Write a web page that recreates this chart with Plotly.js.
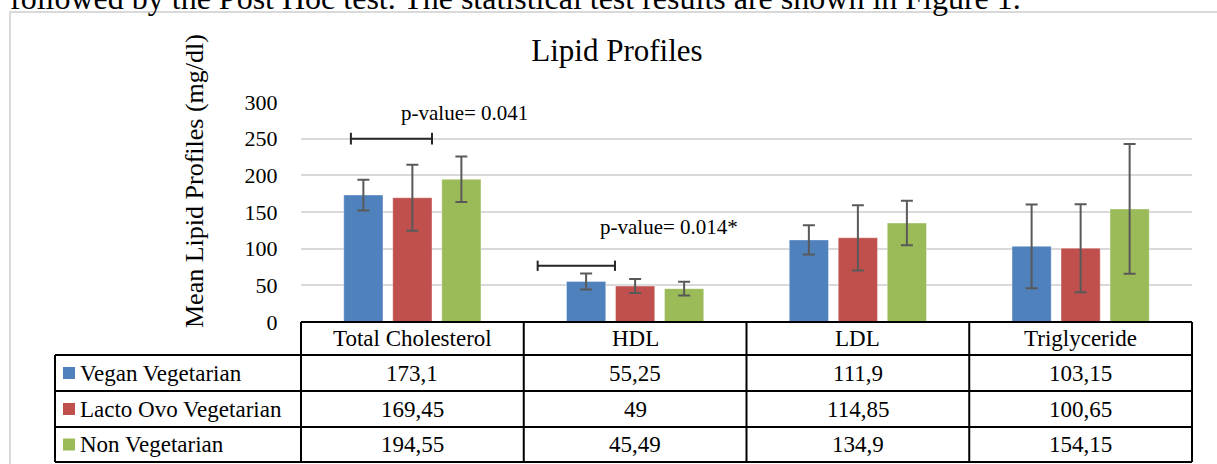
<!DOCTYPE html>
<html>
<head>
<meta charset="utf-8">
<script src="https://cdn.plot.ly/plotly-3.0.1.min.js"></script>
<style>html,body{margin:0;padding:0;background:#fff;}#chart{width:1217px;height:464px;}</style>
</head>
<body>
<div id="chart"></div>
<script>
// ---- data ----
const categories = ['Total Cholesterol', 'HDL', 'LDL', 'Triglyceride'];
const seriesNames = ['Vegan Vegetarian', 'Lacto Ovo Vegetarian', 'Non Vegetarian'];
const veganMeans = [173.1, 55.25, 111.9, 103.15];
const lactoMeans = [169.45, 49, 114.85, 100.65];
const nonVegMeans = [194.55, 45.49, 134.9, 154.15];
const veganErr = [21, 11, 20, 57];
const lactoErr = [45, 9.5, 44.5, 60];
const nonVegErr = [31, 9.3, 30.3, 88.5];
const yTicks = [0, 50, 100, 150, 200, 250, 300];
const pValueLabels = ['p-value= 0.041', 'p-value= 0.014*'];
const introText = 'followed by the Post Hoc test. The statistical test results are shown in Figure 1.';

// ---- layout geometry ----
const W = 1217, H = 464, L = 301, R = 25, T = 102, B = 142;
const PW = W - L - R, PH = H - T - B;
const px2x = p => (p - L) / PW;
const py2y = p => (H - B - p) / PH;
const FONT = 'Liberation Serif, Times New Roman, serif';
const colors = ['#4f81bd', '#c0504d', '#9bbb59'];
const means = [veganMeans, lactoMeans, nonVegMeans];
const errs = [veganErr, lactoErr, nonVegErr];

const traces = seriesNames.map((name, i) => ({
  type: 'bar', name: name, x: categories, y: means[i],
  marker: {color: colors[i], line: {color: 'rgba(255,255,255,0.35)', width: 1}},
  error_y: {type: 'data', array: errs[i], visible: true, color: '#595959', thickness: 2, width: 6},
  showlegend: false, hoverinfo: 'x+y'
}));

const shapes = [];
const annotations = [];
const blk = {color: '#000', width: 2};

// outer frame
shapes.push({type: 'rect', xref: 'paper', yref: 'paper', x0: px2x(10), x1: px2x(1240), y0: py2y(12), y1: py2y(490), line: {color: '#d9d9d9', width: 2}, layer: 'below'});

// table rows (pixel rows)
const headerTop = 322, headerBot = 355, rowBots = [391, 427, 462];
const legendLeft = 55;
// horizontal lines
shapes.push({type: 'line', xref: 'paper', yref: 'paper', x0: 0, x1: 1, y0: py2y(headerTop), y1: py2y(headerTop), line: blk});
[headerBot].concat(rowBots).forEach(r => {
  shapes.push({type: 'line', xref: 'paper', yref: 'paper', x0: px2x(legendLeft), x1: 1, y0: py2y(r), y1: py2y(r), line: blk});
});
// vertical lines
shapes.push({type: 'line', xref: 'paper', yref: 'paper', x0: px2x(legendLeft), x1: px2x(legendLeft), y0: py2y(headerBot), y1: py2y(rowBots[2]), line: blk});
for (let k = 0; k <= categories.length; k++) {
  const xp = k / categories.length;
  shapes.push({type: 'line', xref: 'paper', yref: 'paper', x0: xp, x1: xp, y0: py2y(headerTop), y1: py2y(rowBots[2]), line: blk});
}

// header text
categories.forEach((c, j) => {
  annotations.push({xref: 'x', yref: 'paper', x: j, y: py2y((headerTop + headerBot) / 2), text: c, showarrow: false, font: {family: FONT, size: 23, color: '#000'}, xanchor: 'center', yanchor: 'middle'});
});
// rows
const rowTops = [headerBot, rowBots[0], rowBots[1]];
seriesNames.forEach((s, i) => {
  const cy = (rowTops[i] + rowBots[i]) / 2;
  shapes.push({type: 'rect', xref: 'paper', yref: 'paper', x0: px2x(63), x1: px2x(75), y0: py2y(cy - 6), y1: py2y(cy + 6), fillcolor: colors[i], line: {width: 0}});
  annotations.push({xref: 'paper', yref: 'paper', x: px2x(78), y: py2y(cy), text: s, showarrow: false, font: {family: FONT, size: 23, color: '#000'}, xanchor: 'left', yanchor: 'middle'});
  means[i].forEach((v, j) => {
    annotations.push({xref: 'x', yref: 'paper', x: j, y: py2y(cy), text: String(v).replace('.', ','), showarrow: false, font: {family: FONT, size: 23, color: '#000'}, xanchor: 'center', yanchor: 'middle'});
  });
});

// significance brackets
const brackets = [
  {x0: -0.276, x1: 0.088, y: 250, cap: 8},
  {x0: 0.5625, x1: 0.9095, y: 76.7, cap: 7}
];
brackets.forEach(b => {
  const ln = {color: '#262626', width: 2};
  shapes.push({type: 'line', xref: 'x', yref: 'y', x0: b.x0, x1: b.x1, y0: b.y, y1: b.y, line: ln});
  shapes.push({type: 'line', xref: 'x', yref: 'y', x0: b.x0, x1: b.x0, y0: b.y - b.cap, y1: b.y + b.cap, line: ln});
  shapes.push({type: 'line', xref: 'x', yref: 'y', x0: b.x1, x1: b.x1, y0: b.y - b.cap, y1: b.y + b.cap, line: ln});
});
annotations.push({xref: 'x', yref: 'y', x: 0.232, y: 285, text: pValueLabels[0], showarrow: false, font: {family: FONT, size: 21, color: '#000'}, xanchor: 'center', yanchor: 'middle'});
annotations.push({xref: 'x', yref: 'y', x: 1.15, y: 130, text: pValueLabels[1], showarrow: false, font: {family: FONT, size: 21, color: '#000'}, xanchor: 'center', yanchor: 'middle'});

// y-axis title
annotations.push({xref: 'paper', yref: 'paper', x: px2x(194), y: py2y(181), text: 'Mean Lipid Profiles (mg/dl)', textangle: -90, showarrow: false, font: {family: FONT, size: 26, color: '#000'}, xanchor: 'center', yanchor: 'middle'});

// cut-off paragraph line above the figure
annotations.push({xref: 'paper', yref: 'paper', x: px2x(8), y: py2y(18), text: introText, showarrow: false, font: {family: FONT, size: 32, color: '#000'}, xanchor: 'left', yanchor: 'bottom'});

const layout = {
  width: W, height: H,
  margin: {l: L, r: R, t: T, b: B, pad: 0},
  paper_bgcolor: '#fff', plot_bgcolor: '#fff',
  title: {text: 'Lipid Profiles', font: {family: FONT, size: 31, color: '#000'}, xref: 'container', yref: 'container', x: 617 / W, xanchor: 'center', y: 1 - 50 / H, yanchor: 'middle'},
  barmode: 'group', bargap: 0.34, bargroupgap: 0.2,
  xaxis: {type: 'category', range: [-0.5, 3.5], showticklabels: false, showgrid: false, zeroline: false, showline: false, fixedrange: true},
  yaxis: {range: [0, 300], tickvals: yTicks, ticktext: yTicks.map(String), showgrid: true, gridcolor: '#d9d9d9', gridwidth: 2, zeroline: false, showline: false,
          ticks: 'outside', ticklen: 18, tickcolor: 'rgba(0,0,0,0)', tickfont: {family: FONT, size: 22, color: '#000'}, automargin: false, fixedrange: true},
  shapes: shapes, annotations: annotations,
  showlegend: false
};

Plotly.newPlot('chart', traces, layout, {displayModeBar: false, staticPlot: true});
</script>
</body>
</html>
